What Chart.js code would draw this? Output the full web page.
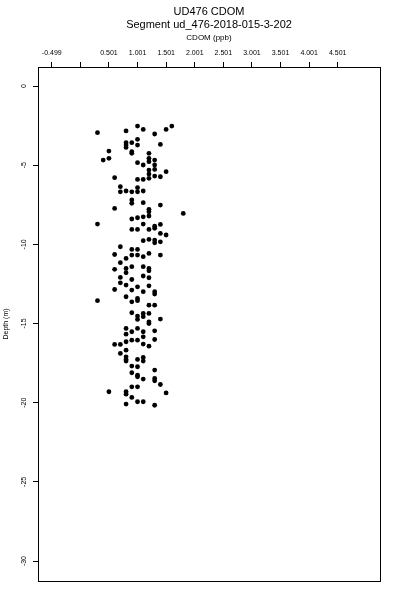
<!DOCTYPE html>
<html>
<head>
<meta charset="utf-8">
<script src="https://cdn.jsdelivr.net/npm/chart.js@4"></script>
<style>
  body { margin: 0; background: #fff; }
</style>
</head>
<body>
<canvas id="myChart" width="400" height="600"></canvas>
<script>
const titleLines = ["UD476 CDOM", "Segment ud_476-2018-015-3-202"];
const xTitle = "CDOM (ppb)";
const yTitle = "Depth (m)";

const xTickValues = [-0.499, 0.001, 0.501, 1.001, 1.501, 2.001, 2.501, 3.001, 3.501, 4.001, 4.501];
const xTickLabels = ["-0.499", "", "0.501", "1.001", "1.501", "2.001", "2.501", "3.001", "3.501", "4.001", "4.501"];
const yTickValues = [0, -5, -10, -15, -20, -25, -30];

// CDOM reading per sample
const cdom = [
    1.0,1.6,1.1,1.5,0.8,0.3,1.3,1.0,0.8,0.9,
    1.4,0.8,1.0,0.8,0.5,0.9,0.9,1.2,0.5,0.4,
    1.2,1.2,1.3,1.0,1.1,1.3,1.3,1.2,1.5,1.2,
    1.3,1.4,0.6,1.2,1.1,1.0,0.7,1.0,0.8,1.1,
    0.7,0.9,1.0,0.9,1.1,0.9,1.4,0.6,1.2,1.2,
    1.8,1.2,1.1,1.0,0.9,1.1,0.3,1.4,1.3,1.3,
    0.9,1.0,1.2,1.4,1.5,1.2,1.3,1.1,1.4,1.3,
    0.7,0.9,1.0,1.2,0.6,0.9,1.0,1.4,1.1,0.8,
    0.7,0.9,1.1,0.8,1.2,0.6,1.2,0.8,1.1,0.7,
    1.2,0.9,0.7,0.8,1.2,1.0,0.6,0.9,1.1,1.3,
    1.3,0.8,1.0,1.0,0.3,0.9,1.2,1.3,0.9,1.1,
    1.2,1.0,1.1,1.4,1.0,1.2,1.2,0.8,1.0,1.3,
    0.9,1.1,0.8,1.1,1.3,0.9,1.0,0.8,1.1,0.6,
    0.7,1.2,0.8,0.7,0.8,1.1,0.8,1.0,0.8,1.1,
    0.9,1.0,1.3,0.9,1.0,1.0,1.3,1.1,1.3,1.4,
    0.9,1.0,0.5,0.8,1.5,0.8,0.9,1.0,1.1,0.8,1.3
];
// depth (m) of each sample, same order
const depth = [
    -2.53,-2.53,-2.74,-2.74,-2.84,-2.95,-3.03,-3.37,-3.58,-3.58,
    -3.69,-3.73,-3.73,-3.88,-4.11,-4.15,-4.25,-4.25,-4.57,-4.68,
    -4.57,-4.78,-4.68,-4.84,-4.99,-4.99,-5.27,-5.31,-5.41,-5.56,
    -5.69,-5.73,-5.79,-5.83,-5.90,-5.90,-6.36,-6.42,-6.63,-6.63,
    -6.68,-6.68,-6.68,-7.20,-7.37,-7.41,-7.52,-7.73,-7.79,-7.94,
    -8.05,-8.21,-8.26,-8.32,-8.40,-8.72,-8.72,-8.74,-8.85,-8.99,
    -9.06,-9.06,-9.06,-9.31,-9.41,-9.69,-9.73,-9.77,-9.84,-9.90,
    -10.15,-10.32,-10.32,-10.57,-10.64,-10.68,-10.68,-10.68,-10.78,-10.89,
    -11.16,-11.41,-11.41,-11.52,-11.52,-11.58,-11.67,-11.79,-12.00,-12.09,
    -12.11,-12.22,-12.43,-12.57,-12.62,-12.68,-12.85,-12.89,-12.99,-12.99,
    -13.14,-13.31,-13.42,-13.56,-13.56,-13.63,-13.84,-13.84,-14.32,-14.36,
    -14.36,-14.53,-14.57,-14.72,-14.74,-14.89,-15.00,-15.31,-15.31,-15.46,
    -15.52,-15.52,-15.67,-15.84,-16.01,-16.05,-16.05,-16.15,-16.30,-16.32,
    -16.32,-16.43,-16.68,-16.89,-17.10,-17.14,-17.27,-17.27,-17.37,-17.37,
    -17.69,-17.73,-17.94,-18.11,-18.26,-18.36,-18.47,-18.51,-18.62,-18.85,
    -19.00,-19.00,-19.31,-19.31,-19.38,-19.46,-19.67,-19.94,-19.94,-20.09,-20.16
];

const FONT = "'Liberation Sans', Arial, sans-serif";

// box round the plot area, like R's box(); title centred over the plot
const boxPlugin = {
    id: "box",
    afterLayout(chart) {
        if (chart.titleBlock) {
            chart.titleBlock.left = chart.chartArea.left;
            chart.titleBlock.right = chart.chartArea.right;
        }
    },
    afterDraw(chart) {
        const a = chart.chartArea;
        const ctx = chart.ctx;
        ctx.save();
        ctx.strokeStyle = "#000";
        ctx.lineWidth = 1;
        ctx.strokeRect(Math.round(a.left) + 0.5, Math.round(a.top) + 0.5,
            Math.round(a.right - a.left), Math.round(a.bottom - a.top));
        ctx.restore();
    }
};

const config = {
    type: "scatter",
    data: {
        datasets: [{
            data: cdom.map((v, i) => ({ x: v, y: depth[i] })),
            pointRadius: 2.4,
            pointStyle: "circle",
            backgroundColor: "#000",
            borderWidth: 0
        }]
    },
    options: {
        responsive: false,
        animation: false,
        devicePixelRatio: 1,
        layout: { padding: { top: 0, left: 0, right: 20, bottom: 19 } },
        plugins: {
            legend: { display: false },
            tooltip: { enabled: false },
            title: {
                display: true,
                text: titleLines,
                color: "#000",
                font: { family: FONT, size: 11, weight: "normal", lineHeight: 1.2 },
                padding: { top: 5, bottom: 0 }
            }
        },
        scales: {
            x: {
                type: "linear",
                position: "top",
                min: -0.74,
                max: 5.24,
                afterBuildTicks: (s) => { s.ticks = xTickValues.map(v => ({ value: v })); },
                afterFit: (s) => { s.height = 67 - 31.4; },
                ticks: {
                    autoSkip: false,
                    maxRotation: 0,
                    padding: 5,
                    color: "#000",
                    font: { family: FONT, size: 7 },
                    callback: (v, i) => xTickLabels[i]
                },
                grid: { drawOnChartArea: false, drawTicks: true, tickLength: 5, color: "#000" },
                border: { display: false },
                title: {
                    display: true,
                    text: xTitle,
                    color: "#000",
                    font: { family: FONT, size: 8 },
                    padding: { top: 2, bottom: 0 }
                }
            },
            y: {
                type: "linear",
                min: -31.26,
                max: 1.2,
                afterBuildTicks: (s) => { s.ticks = yTickValues.map(v => ({ value: v })); },
                afterFit: (s) => { s.width = 38; },
                ticks: {
                    autoSkip: false,
                    minRotation: 90,
                    maxRotation: 90,
                    crossAlign: "center",
                    padding: 4,
                    color: "#000",
                    font: { family: FONT, size: 7 },
                    callback: (v) => String(v)
                },
                grid: { drawOnChartArea: false, drawTicks: true, tickLength: 5, color: "#000" },
                border: { display: false },
                title: {
                    display: true,
                    text: yTitle,
                    color: "#000",
                    font: { family: FONT, size: 7 },
                    padding: { top: 2, bottom: 0 }
                }
            }
        }
    },
    plugins: [boxPlugin]
};

new Chart(document.getElementById("myChart").getContext("2d"), config);
</script>
</body>
</html>
